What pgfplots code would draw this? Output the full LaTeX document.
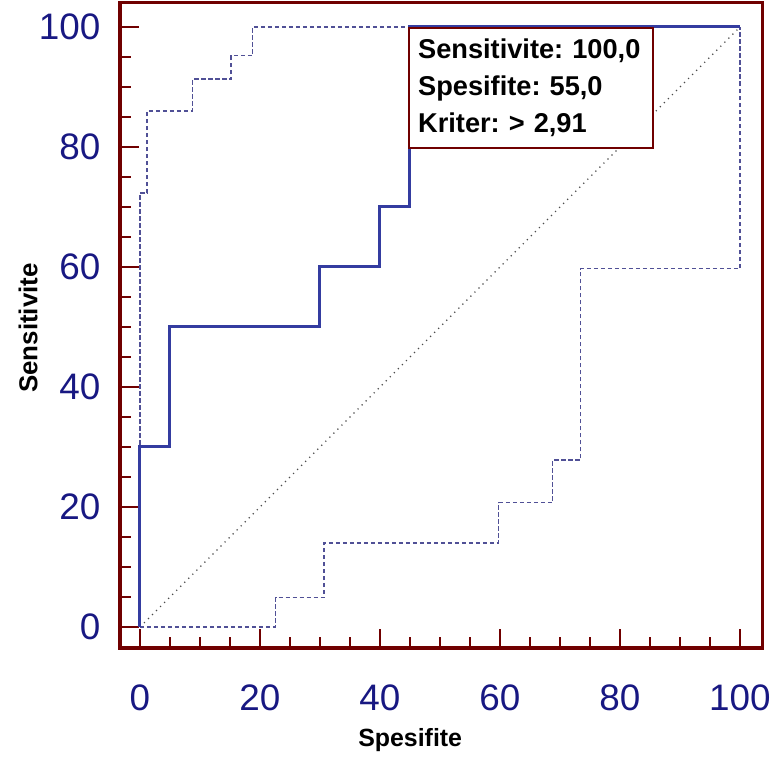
\documentclass[border=0pt]{standalone}
\usepackage{fontspec}
\setmainfont{Liberation Sans}
\usepackage{pgfplots}
\pgfplotsset{compat=1.18}
\definecolor{frame}{RGB}{112,0,0}
\definecolor{roc}{RGB}{52,60,160}
\definecolor{ci}{RGB}{80,80,150}
\definecolor{tick}{RGB}{24,24,130}
\frenchspacing
\begin{document}
\begin{tikzpicture}
\useasboundingbox (0,0) rectangle (778bp,759bp);
\begin{axis}[
  at={(120bp,111bp)}, anchor=south west,
  scale only axis, width=642bp, height=645bp,
  xmin=-3.33, xmax=103.67, ymin=-3.5, ymax=104,
  xtick={0,20,...,100}, ytick={0,20,...,100},
  minor x tick num=3, minor y tick num=3,
  xtick pos=bottom, ytick pos=left,
  tick align=inside,
  major tick length=19bp, minor tick length=11bp,
  every tick/.style={frame, line width=2bp},
  axis line style={frame, line width=3bp},
  ticklabel style={font=\fontsize{37}{40}\selectfont, text=tick},
  /pgf/number format/assume math mode=true,
  xticklabel style={yshift=-33bp},
  yticklabel style={xshift=-16bp},
  xlabel={Spesifite}, ylabel={Sensitivite},
  xlabel style={at={(axis description cs:0.452,0)}, anchor=center, yshift=-92bp, font=\fontsize{25}{28}\selectfont\bfseries},
  ylabel style={at={(axis description cs:-0.1433,0.496)}, anchor=center, font=\fontsize{26}{28}\selectfont\bfseries},
  clip=false,
]
\addplot[black!70, line width=1.3bp, dash pattern=on 1.2bp off 4.5bp] coordinates {(0,0) (100,100)};
\addplot[ci, line width=1.4bp, dash pattern=on 4.5bp off 2.5bp] coordinates {
 (0,0) (0,40.2) (0,72.3) (1.2,72.3) (1.2,86) (8.8,86) (8.8,91.3) (15.2,91.3) (15.2,95.2) (18.8,95.2) (18.8,100) (100,100)};
\addplot[ci, line width=1.4bp, dash pattern=on 4.5bp off 2.5bp] coordinates {
 (0,0) (22.6,0) (22.6,4.9) (30.7,4.9) (30.7,14) (59.8,14) (59.8,20.7) (68.8,20.7) (68.8,27.8) (73.4,27.8) (73.4,59.7) (100,59.7) (100,100)};
\addplot[roc, line width=3bp] coordinates {
 (0,0) (0,30) (5,30) (5,50) (30,50) (30,60) (40,60) (40,70) (45,70) (45,100) (100,100)};
\node[anchor=north west, draw=frame, line width=2bp, fill=white, inner xsep=9bp, inner ysep=11bp,
  text width=226bp, align=left, font=\fontsize{27.3}{37}\selectfont\bfseries]
  at (axis cs:44.7,100) {Sensitivite: 100,0\\Spesifite: 55,0\\Kriter: > 2,91};
\end{axis}
\end{tikzpicture}
\end{document}
